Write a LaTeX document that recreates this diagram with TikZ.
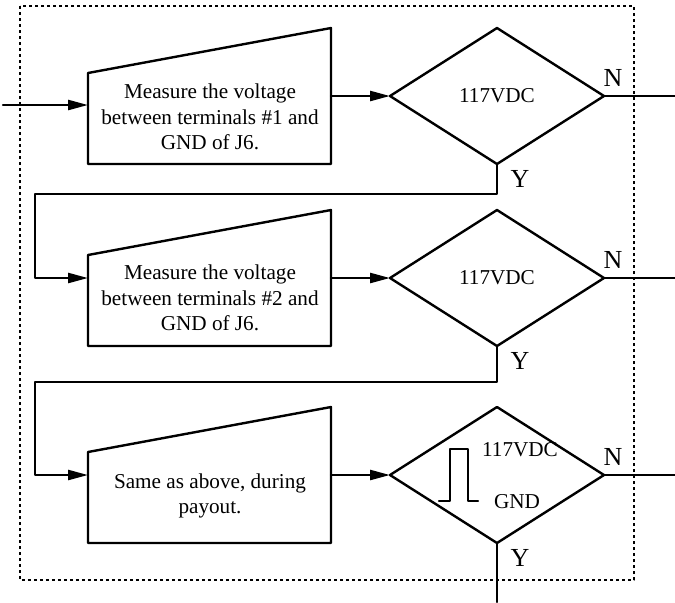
\documentclass[tikz,border=0pt]{standalone}
\usepackage{fontspec}
\setmainfont{Liberation Serif}
\usetikzlibrary{shapes.geometric,arrows.meta}
\begin{document}
\begin{tikzpicture}[x=0.5pt,y=-0.5pt,line join=round,line cap=round,line width=1.2pt,
	>={Triangle[length=10pt,width=5pt]},font=\fontsize{10.6}{12.8}\selectfont,
	box/.style={align=center,inner sep=0pt},
	test/.style={diamond,draw,minimum width=107pt,minimum height=68pt,inner sep=0pt,outer sep=0pt},
	yn/.style={font=\fontsize{13}{13}\selectfont,inner sep=0pt},
	frame/.style={line cap=butt,line width=1pt,dash pattern=on 1.6pt off 1.4pt}]
	\useasboundingbox (0,0) rectangle (675,602);
	\path
	(3,105) coordinate (in)
	(675,0) coordinate (ex)
	(0,602) coordinate (ey)
	(35,194) coordinate (r1)
	(35,382) coordinate (r2)
	(20,6) coordinate (f1)
	(634,580) coordinate (f2)
	;
	\draw[frame] (f1) rectangle (f2);
	% manual input blocks
	\foreach \n/\t in {1/28,2/210,3/407}{
		\path
		(88,\t+45) coordinate (tl\n)
		(331,\t) coordinate (tr\n)
		(331,\t+136) coordinate (br\n)
		(88,\t+136) coordinate (bl\n)
		;
		\draw (tl\n)--(tr\n)--(br\n)--(bl\n)--cycle;
	}
	\node[box] (m1) at (210,117) {Measure the voltage\\between terminals \#1 and\\GND of J6.};
	\node[box] (m2) at (210,298) {Measure the voltage\\between terminals \#2 and\\GND of J6.};
	\node[box] (m3) at (210,496) {Same as above, during\\payout.};
	% decisions
	\node[test] (d1) at (497,96) {117VDC};
	\node[test] (d2) at (497,278) {117VDC};
	\node[test] (d3) at (497,475) {};
	\node[inner sep=0pt] (v3) at (520,450) {117VDC};
	\node[inner sep=0pt] (g3) at (517,502) {GND};
	\draw (439,501) -| (450,449) -| (468,501) -- (478,501);
	% connectors
	\draw[->] (in) -- (in -| bl1);
	\foreach \n in {1,2,3}{
		\draw[->] (d\n.west -| tr\n) -- (d\n.west);
		\draw (d\n.east) -- (d\n.east -| ex);
		\node[yn] (n\n) at ([shift={(116,-18)}]d\n.center) {N};
		\node[yn] (y\n) at ([shift={(23,15)}]d\n.south) {Y};
	}
	\draw[->] (d1.south) |- (r1) |- (d2.west -| bl2);
	\draw[->] (d2.south) |- (r2) |- (d3.west -| bl3);
	\draw (d3.south) -- (d3.south |- ey);
\end{tikzpicture}
\end{document}
